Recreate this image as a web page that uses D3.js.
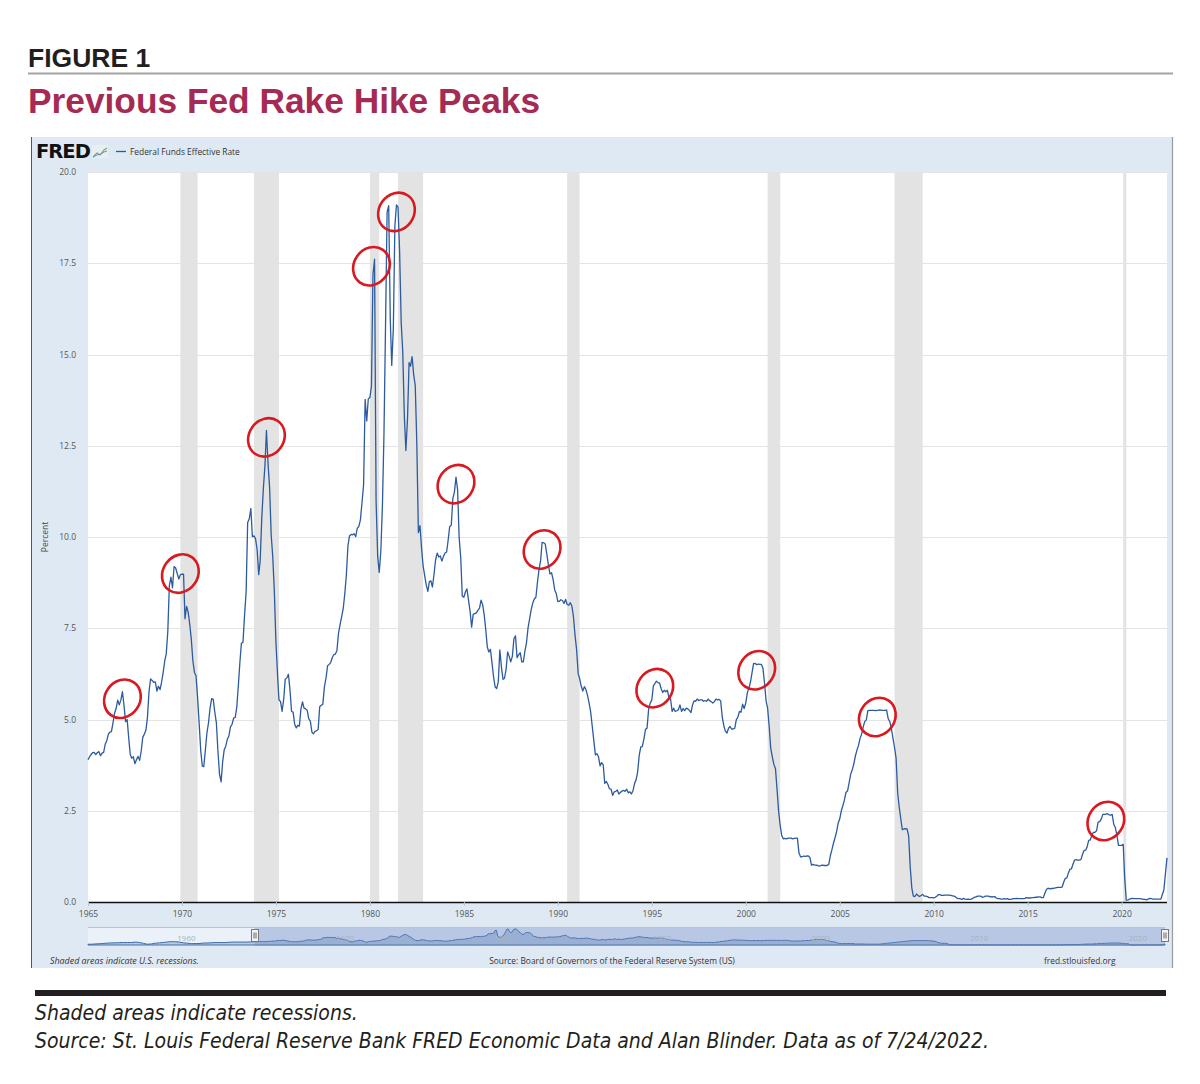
<!DOCTYPE html>
<html>
<head>
<meta charset="utf-8">
<script src="https://cdn.jsdelivr.net/npm/d3@7"></script>
<style>
  body { margin:0; background:#fff; }
  svg { display:block; }
</style>
</head>
<body>
<svg id="svg" width="1200" height="1084"></svg>
<script>
// monthly effective fed funds rate, Jan 1965 .. Jun 2022
var rates = [
  3.90,3.98,4.04,4.09,4.10,4.04,4.09,4.12,4.01,4.08,4.10,4.32, // 1965
  4.42,4.60,4.65,4.67,4.90,5.17,5.30,5.53,5.40,5.53,5.76,5.40, // 1966
  4.94,5.00,4.53,4.05,3.94,3.98,3.79,3.90,3.99,3.88,4.13,4.51, // 1967
  4.60,4.71,5.05,5.76,6.11,6.07,6.02,6.03,5.78,5.91,5.82,6.02, // 1968
  6.30,6.61,6.79,7.41,8.67,8.90,8.61,9.19,9.15,9.00,8.85,8.97, // 1969
  8.98,8.98,7.76,8.10,7.95,7.61,7.21,6.61,6.29,6.20,5.60,4.90, // 1970
  4.14,3.72,3.71,4.16,4.63,4.91,5.31,5.57,5.55,5.20,4.91,4.14, // 1971
  3.50,3.29,3.83,4.17,4.27,4.46,4.55,4.80,4.87,5.04,5.06,5.33, // 1972
  5.94,6.58,7.09,7.12,7.84,8.49,10.40,10.50,10.78,10.01,10.03,9.95, // 1973
  9.65,8.97,9.35,10.51,11.31,11.93,12.92,12.01,11.34,10.06,9.45,8.53, // 1974
  7.13,6.24,5.54,5.49,5.22,5.55,6.10,6.14,6.24,5.82,5.22,5.20, // 1975
  4.87,4.77,4.84,4.82,5.29,5.48,5.31,5.29,5.25,5.02,4.95,4.65, // 1976
  4.61,4.68,4.69,4.73,5.35,5.39,5.42,5.90,6.14,6.47,6.51,6.56, // 1977
  6.70,6.78,6.79,6.89,7.36,7.60,7.81,8.04,8.45,8.96,9.76,10.03, // 1978
  10.07,10.06,10.09,10.01,10.24,10.29,10.47,10.94,11.43,13.77,13.18,13.78, // 1979
  13.82,14.13,17.19,17.61,10.98,9.47,9.03,9.61,10.87,12.81,15.85,18.90, // 1980
  19.08,15.93,14.70,15.72,18.52,19.10,19.04,17.82,15.87,15.08,13.31,12.37, // 1981
  13.22,14.78,14.68,14.94,14.45,14.15,12.59,10.12,10.31,9.71,9.20,8.95, // 1982
  8.68,8.51,8.77,8.80,8.63,8.98,9.37,9.56,9.45,9.48,9.34,9.47, // 1983
  9.56,9.59,9.91,10.29,10.32,11.06,11.23,11.64,11.30,9.99,9.43,8.38, // 1984
  8.35,8.50,8.58,8.27,7.97,7.53,7.88,7.90,7.92,7.99,8.05,8.27, // 1985
  8.14,7.86,7.48,6.99,6.85,6.92,6.56,6.17,5.89,5.85,6.04,6.91, // 1986
  6.43,6.10,6.13,6.37,6.85,6.73,6.58,6.73,7.22,7.29,6.69,6.77, // 1987
  6.83,6.58,6.58,6.87,7.09,7.51,7.75,8.01,8.19,8.30,8.35,8.76, // 1988
  9.12,9.36,9.85,9.84,9.81,9.53,9.24,8.99,9.02,8.84,8.55,8.45, // 1989
  8.23,8.24,8.28,8.26,8.18,8.29,8.15,8.13,8.20,8.11,7.81,7.31, // 1990
  6.91,6.25,6.12,5.91,5.78,5.90,5.82,5.66,5.45,5.21,4.81,4.43, // 1991
  4.03,4.06,3.98,3.73,3.82,3.76,3.25,3.30,3.22,3.10,3.09,2.92, // 1992
  3.02,3.03,3.07,2.96,3.00,3.04,3.06,3.03,3.09,2.99,3.02,2.96, // 1993
  3.05,3.25,3.34,3.56,4.01,4.25,4.26,4.47,4.73,4.76,5.29,5.45, // 1994
  5.53,5.92,5.98,6.05,6.01,6.00,5.85,5.74,5.80,5.76,5.80,5.60, // 1995
  5.56,5.22,5.31,5.22,5.24,5.27,5.40,5.22,5.30,5.24,5.31,5.29, // 1996
  5.25,5.19,5.39,5.51,5.50,5.56,5.52,5.54,5.54,5.50,5.52,5.50, // 1997
  5.56,5.51,5.49,5.45,5.49,5.56,5.54,5.55,5.51,5.07,4.83,4.68, // 1998
  4.63,4.76,4.81,4.74,4.74,4.76,4.99,5.07,5.22,5.20,5.42,5.30, // 1999
  5.45,5.73,5.85,6.02,6.27,6.53,6.54,6.50,6.52,6.51,6.51,6.40, // 2000
  5.98,5.49,5.31,4.80,4.21,3.97,3.77,3.65,3.07,2.49,2.09,1.82, // 2001
  1.73,1.74,1.73,1.75,1.75,1.75,1.73,1.74,1.75,1.75,1.34,1.24, // 2002
  1.24,1.26,1.25,1.26,1.26,1.22,1.01,1.03,1.01,1.01,1.00,0.98, // 2003
  1.00,1.01,1.00,1.00,1.00,1.03,1.26,1.43,1.61,1.76,1.93,2.16, // 2004
  2.28,2.50,2.63,2.79,3.00,3.04,3.26,3.50,3.62,3.78,4.00,4.16, // 2005
  4.29,4.49,4.59,4.79,4.94,4.99,5.24,5.25,5.25,5.25,5.25,5.24, // 2006
  5.25,5.26,5.26,5.25,5.25,5.25,5.26,5.02,4.94,4.76,4.49,4.24, // 2007
  3.94,2.98,2.61,2.28,1.98,2.00,2.01,2.00,1.81,0.97,0.39,0.16, // 2008
  0.15,0.22,0.18,0.15,0.18,0.21,0.16,0.16,0.15,0.12,0.12,0.12, // 2009
  0.11,0.13,0.16,0.20,0.20,0.18,0.18,0.19,0.19,0.19,0.19,0.18, // 2010
  0.17,0.16,0.14,0.10,0.09,0.09,0.07,0.10,0.08,0.07,0.08,0.07, // 2011
  0.08,0.10,0.13,0.14,0.16,0.16,0.16,0.13,0.14,0.16,0.16,0.16, // 2012
  0.14,0.15,0.14,0.15,0.11,0.09,0.09,0.08,0.08,0.09,0.08,0.09, // 2013
  0.07,0.07,0.08,0.09,0.09,0.10,0.09,0.09,0.09,0.09,0.09,0.12, // 2014
  0.11,0.11,0.11,0.12,0.12,0.13,0.13,0.14,0.14,0.12,0.12,0.24, // 2015
  0.34,0.38,0.36,0.37,0.37,0.38,0.39,0.40,0.40,0.40,0.41,0.54, // 2016
  0.65,0.66,0.79,0.90,0.91,1.04,1.15,1.16,1.15,1.15,1.16,1.30, // 2017
  1.41,1.42,1.51,1.69,1.70,1.82,1.91,1.91,1.95,2.19,2.20,2.27, // 2018
  2.40,2.40,2.41,2.42,2.39,2.38,2.40,2.13,2.04,1.83,1.55,1.55, // 2019
  1.55,1.58,0.65,0.05,0.05,0.08,0.09,0.10,0.09,0.09,0.09,0.09, // 2020
  0.09,0.08,0.07,0.07,0.06,0.08,0.10,0.09,0.08,0.08,0.08,0.08, // 2021
  0.08,0.08,0.20,0.33,0.77,1.21                                // 2022
];

// older history, quarterly, only shown in the small navigator (1954Q3 .. 1964Q4)
var navPre = [
  0.90,0.95,
  1.30,1.50,1.90,2.30,
  2.50,2.60,2.80,2.90,
  2.90,3.00,3.50,3.00,
  1.90,0.90,1.30,2.20,
  2.50,3.00,3.60,4.00,
  3.90,3.50,2.60,2.20,
  1.60,1.70,1.70,2.30,
  2.40,2.60,2.90,2.90,
  2.90,3.00,3.40,3.50,
  3.50,3.50,3.50,3.70
];

// US recessions [start, end]
var recessions = [
  ["1969-12-01","1970-11-01"],
  ["1973-11-01","1975-03-01"],
  ["1980-01-01","1980-07-01"],
  ["1981-07-01","1982-11-01"],
  ["1990-07-01","1991-03-01"],
  ["2001-03-01","2001-11-01"],
  ["2007-12-01","2009-06-01"],
  ["2020-02-01","2020-04-01"]
];

// peaks circled in red
var peaks = [
  ["1966-11-01",5.76],
  ["1969-12-01",9.19],
  ["1974-07-01",12.92],
  ["1980-02-01",17.61],
  ["1981-06-01",19.10],
  ["1984-08-01",11.64],
  ["1989-03-01",9.85],
  ["1995-03-01",6.05],
  ["2000-08-01",6.54],
  ["2007-01-01",5.26],
  ["2019-03-01",2.41]
];

var yTicks = [0,2.5,5,7.5,10,12.5,15,17.5,20];
var xTickYears = [1965,1970,1975,1980,1985,1990,1995,2000,2005,2010,2015,2020];
var navYears = [1960,1970,1980,1990,2000,2010,2020];

var parseDate = d3.timeParse("%Y-%m-%d");
var start = new Date(1965,0,1);
var data = rates.map(function(v,i){ return {date: d3.timeMonth.offset(start,i), value: v}; });
var navData = navPre.map(function(v,i){ return {date: d3.timeMonth.offset(new Date(1954,6,1), i*3), value: v}; }).concat(data);

var svg = d3.select("#svg");
var fredFont = "'Open Sans', 'DejaVu Sans', sans-serif";
var headFont = "'Liberation Sans', Arial, sans-serif";

// ---- page header
svg.append("text").attr("x",28).attr("y",67)
  .style("font-family",headFont).style("font-weight","bold").style("font-size","26.5px")
  .style("fill","#231f20").text("FIGURE 1");
svg.append("line").attr("x1",28).attr("x2",1173).attr("y1",73.5).attr("y2",73.5)
  .style("stroke","#a3a3a3").style("stroke-width",2);
svg.append("text").attr("x",28).attr("y",113)
  .style("font-family",headFont).style("font-weight","bold").style("font-size","35.3px")
  .style("fill","#a52a54").text("Previous Fed Rake Hike Peaks");

// ---- FRED frame
svg.append("rect").attr("x",31).attr("y",137).attr("width",1141).attr("height",831)
  .style("fill","#dfe9f3");
svg.append("line").attr("x1",31.5).attr("x2",31.5).attr("y1",137).attr("y2",968)
  .style("stroke","#555").style("stroke-width",1);
svg.append("line").attr("x1",1172.5).attr("x2",1172.5).attr("y1",137).attr("y2",968)
  .style("stroke","#9a9a9a").style("stroke-width",1.2);

var x = d3.scaleTime().domain([start, new Date(2022,5,1)]).range([88,1167]);
var y = d3.scaleLinear().domain([0,20]).range([902,172]);

svg.append("rect").attr("x",88).attr("y",172).attr("width",1167-88).attr("height",902-172)
  .style("fill","#fff");

// gridlines
svg.append("g").selectAll("line").data(yTicks.slice(1)).enter().append("line")
  .attr("x1",88).attr("x2",1167)
  .attr("y1",function(d){ return Math.round(y(d))+0.5; })
  .attr("y2",function(d){ return Math.round(y(d))+0.5; })
  .style("stroke","#e4e4e4").style("stroke-width",1);

// recession bands
svg.append("g").selectAll("rect").data(recessions).enter().append("rect")
  .attr("x",function(d){ return x(parseDate(d[0])); })
  .attr("width",function(d){ return Math.max(3, x(parseDate(d[1]))-x(parseDate(d[0]))); })
  .attr("y",172).attr("height",902-172)
  .style("fill","#e3e3e3");

// y axis
var yAxis = svg.append("g").attr("transform","translate(79,0)")
  .call(d3.axisLeft(y).tickValues(yTicks).tickSize(0).tickFormat(d3.format(".1f")));
yAxis.select(".domain").remove();
yAxis.selectAll("text").style("font-family",fredFont).style("font-size","8.5px").style("fill","#555");

svg.append("text").attr("transform","translate(48,537) rotate(-90)")
  .attr("text-anchor","middle")
  .style("font-family",fredFont).style("font-size","8.5px").style("fill","#444").text("Percent");

// x axis
var xAxis = svg.append("g").attr("transform","translate(0,902)")
  .call(d3.axisBottom(x).tickValues(xTickYears.map(function(yr){ return new Date(yr,0,1); }))
    .tickSize(4).tickFormat(d3.timeFormat("%Y")));
xAxis.select(".domain").attr("d","M88,0.5H1167").style("stroke","#111").style("stroke-width",1.5);
xAxis.selectAll(".tick line").style("stroke","#b8c6d6");
xAxis.selectAll("text").attr("dy","0.9em")
  .style("font-family",fredFont).style("font-size","8.5px").style("fill","#555");

// the series
var line = d3.line()
  .x(function(d){ return x(d.date); })
  .y(function(d){ return y(d.value); });
svg.append("path").datum(data).attr("d",line)
  .style("fill","none").style("stroke","#2c5b9f").style("stroke-width",1.3)
  .style("stroke-linejoin","round");

// red peak circles
svg.append("g").selectAll("ellipse").data(peaks).enter().append("ellipse")
  .attr("transform",function(d){
    return "translate("+x(parseDate(d[0]))+","+(y(d[1])+7)+") rotate(35)";
  })
  .attr("rx",17.5).attr("ry",20)
  .style("fill","none").style("stroke","#d8191f").style("stroke-width",2.6);

// ---- legend / logo
svg.append("text").attr("x",36).attr("y",158)
  .style("font-family","'DejaVu Sans', sans-serif").style("font-weight","bold").style("font-size","19.5px")
  .style("letter-spacing","-1px").style("fill","#111").text("FRED");
var icon = svg.append("g").attr("transform","translate(92,145)");
icon.append("rect").attr("width",16).attr("height",13).style("fill","#e8eef2");
icon.append("polyline").attr("points","1,12 5,8 8,10 12,5 15,3")
  .style("fill","none").style("stroke","#7aa95c").style("stroke-width",1.1);
icon.append("polyline").attr("points","1,12 5,10 9,9 12,7 15,6")
  .style("fill","none").style("stroke","#6a8fc0").style("stroke-width",1);
svg.append("line").attr("x1",116).attr("x2",126).attr("y1",151.5).attr("y2",151.5)
  .style("stroke","#2c5b9f").style("stroke-width",1.3);
svg.append("text").attr("x",130).attr("y",154.5)
  .style("font-family",fredFont).style("font-size","8.4px").style("fill","#333")
  .text("Federal Funds Effective Rate");

// ---- navigator
var nx = d3.scaleTime().domain([new Date(1954,6,1), new Date(2022,5,1)]).range([88,1165]);
var ny = d3.scaleLinear().domain([0,19.1]).range([945,929]);
svg.append("rect").attr("x",88).attr("y",927).attr("width",1165-88).attr("height",19)
  .style("fill","#eaf1f8");
svg.append("path").datum(navData)
  .attr("d",d3.area().x(function(d){ return nx(d.date); }).y0(945).y1(function(d){ return ny(d.value); }))
  .style("fill","#4572a7").style("fill-opacity",0.3)
  .style("stroke","#3e6aa6").style("stroke-width",1);
svg.append("rect").attr("x",nx(start)).attr("y",927).attr("width",1165-nx(start)).attr("height",19)
  .style("fill","#6685c2").style("fill-opacity",0.38);
svg.append("line").attr("x1",88).attr("x2",1165).attr("y1",927.5).attr("y2",927.5)
  .style("stroke","#b7c3d0").style("stroke-width",1);
svg.append("g").selectAll("text").data(navYears).enter().append("text")
  .attr("x",function(d){ return nx(new Date(d,0,1))+2; }).attr("y",941)
  .style("font-family",fredFont).style("font-size","8px").style("fill","#a7b2c0")
  .text(function(d){ return d; });
var handles = svg.append("g").selectAll("g").data([nx(start), 1165]).enter().append("g")
  .attr("transform",function(d){ return "translate("+(Math.round(d)-3.5)+",929.5)"; });
handles.append("rect").attr("width",7).attr("height",12)
  .style("fill","#f4f4f4").style("stroke","#777").style("stroke-width",1);
handles.append("line").attr("x1",2.5).attr("x2",2.5).attr("y1",3).attr("y2",9).style("stroke","#666");
handles.append("line").attr("x1",4.5).attr("x2",4.5).attr("y1",3).attr("y2",9).style("stroke","#666");

// frame footer
svg.append("text").attr("x",50).attr("y",964)
  .style("font-family",fredFont).style("font-style","italic").style("font-size","8.9px").style("fill","#333")
  .text("Shaded areas indicate U.S. recessions.");
svg.append("text").attr("x",612).attr("y",964).attr("text-anchor","middle")
  .style("font-family",fredFont).style("font-size","8.4px").style("fill","#333")
  .text("Source: Board of Governors of the Federal Reserve System (US)");
svg.append("text").attr("x",1044).attr("y",964)
  .style("font-family",fredFont).style("font-size","8.4px").style("fill","#333")
  .text("fred.stlouisfed.org");

// ---- page footer
svg.append("rect").attr("x",35).attr("y",990).attr("width",1131).attr("height",6)
  .style("fill","#231f20");
var noteFont = "'Liberation Sans Narrow', 'DejaVu Sans Condensed', Arial, sans-serif";
svg.append("text").attr("x",35).attr("y",1020)
  .style("font-family",noteFont).style("font-style","italic").style("font-size","21px").style("fill","#231f20")
  .text("Shaded areas indicate recessions.");
svg.append("text").attr("x",35).attr("y",1048)
  .style("font-family",noteFont).style("font-style","italic").style("font-size","21px").style("fill","#231f20")
  .text("Source: St. Louis Federal Reserve Bank FRED Economic Data and Alan Blinder. Data as of 7/24/2022.");
</script>
</body>
</html>
